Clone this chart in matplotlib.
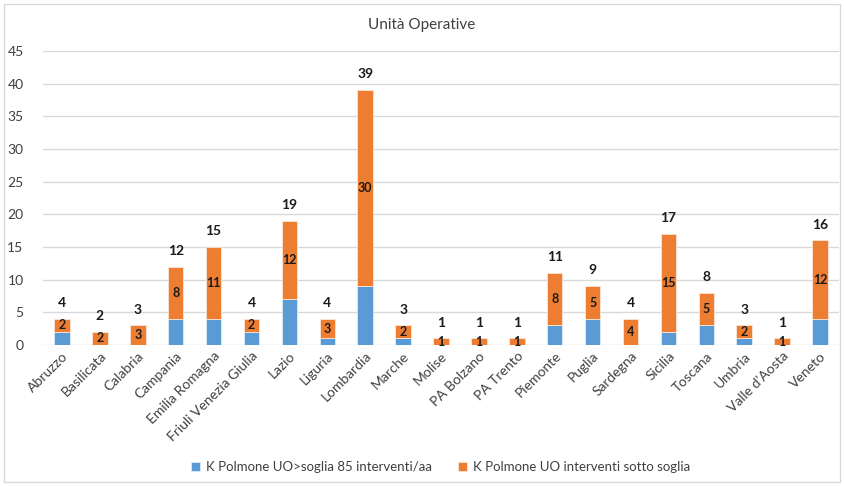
import matplotlib.pyplot as plt
from matplotlib.patches import Rectangle

plt.rcParams['font.family'] = ['Lato', 'DejaVu Sans']

regioni = ["Abruzzo", "Basilicata", "Calabria", "Campania", "Emilia Romagna",
           "Friuli Venezia Giulia", "Lazio", "Liguria", "Lombardia", "Marche",
           "Molise", "PA Bolzano", "PA Trento", "Piemonte", "Puglia", "Sardegna",
           "Sicilia", "Toscana", "Umbria", "Valle d'Aosta", "Veneto"]

# UO sopra soglia (blu) e sotto soglia (arancio)
sopra = [2, 0, 0, 4, 4, 2, 7, 1, 9, 1, 0, 0, 0, 3, 4, 0, 2, 3, 1, 0, 4]
sotto = [2, 2, 3, 8, 11, 2, 12, 3, 30, 2, 1, 1, 1, 8, 5, 4, 15, 5, 2, 1, 12]
totali = [4, 2, 3, 12, 15, 4, 19, 4, 39, 3, 1, 1, 1, 11, 9, 4, 17, 8, 3, 1, 16]

blu = "#5B9BD5"
arancio = "#ED7D31"

fig = plt.figure(figsize=(8.44, 4.86), dpi=100)
ax = fig.add_axes([43 / 844, 1 - 345 / 486, (839 - 43) / 844, (345 - 51) / 486])

x = list(range(len(regioni)))
w = 0.41
ax.bar(x, sopra, w, color=blu, edgecolor="#DEEBF7", linewidth=0.6,
       label="K Polmone UO>soglia 85 interventi/aa", zorder=3)
ax.bar(x, sotto, w, bottom=sopra, color=arancio, edgecolor="#FBE5D6", linewidth=0.6,
       label="K Polmone UO interventi sotto soglia", zorder=3)

for i in x:
    ax.text(i, sopra[i] + sotto[i] / 2, str(sotto[i]), ha="center", va="center",
            fontsize=9, fontweight="bold", color="#1a1a1a", zorder=4)
    ax.annotate(str(totali[i]), (i, totali[i]), xytext=(0, 7), textcoords="offset points",
                ha="center", va="bottom", fontsize=10, fontweight="bold", color="#1a1a1a")

ax.set_xlim(-0.5, len(regioni) - 0.5)
ax.set_ylim(0, 45)
ax.set_yticks(range(0, 46, 5))
ax.set_xticks(x)
ax.set_xticklabels(regioni, rotation=45, ha="right", rotation_mode="anchor")
ax.tick_params(axis="both", length=0, labelsize=10, colors="#404040")
ax.tick_params(axis="y", pad=14)
ax.grid(axis="y", color="#D9D9D9", linewidth=1, zorder=0)
for s in ax.spines.values():
    s.set_visible(False)

fig.text(0.5, 1 - 25 / 486, "Unità Operative", ha="center", va="center",
         fontsize=11, color="#404040")

fig.legend(loc="center", bbox_to_anchor=(0.522, 1 - 467 / 486), ncol=2, frameon=False,
           handlelength=0.7, handleheight=0.7, handletextpad=0.4, columnspacing=2.0,
           fontsize=9.5, labelcolor="#404040")

fig.patches.append(Rectangle((4 / 844, 4 / 486), 836 / 844, 478 / 486, transform=fig.transFigure,
                             fill=False, edgecolor="#D9D9D9", linewidth=1))

fig.savefig("out.png", dpi=100)
